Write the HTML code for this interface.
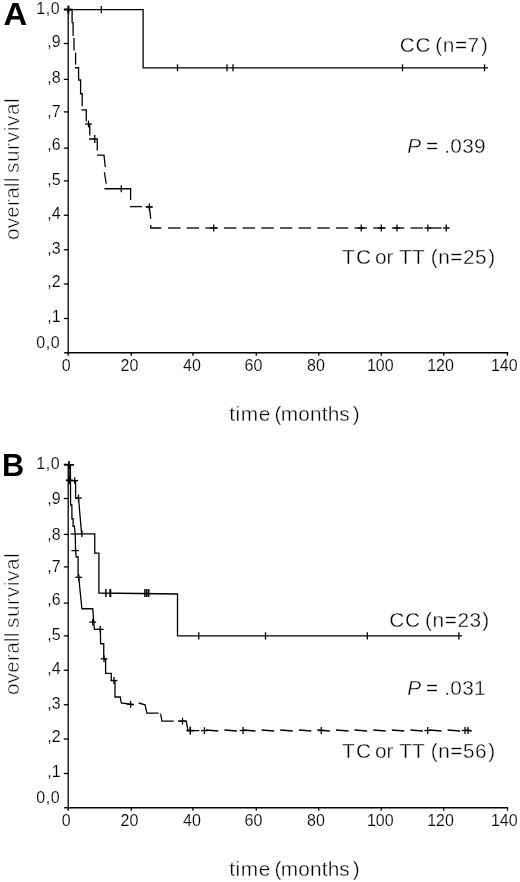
<!DOCTYPE html>
<html><head><meta charset="utf-8"><title>Survival</title>
<style>
html,body{margin:0;padding:0;background:#fff;}
svg{display:block;font-family:"Liberation Sans",sans-serif;font-kerning:none;}
text{fill:#000;font-kerning:none;}
text.b{fill:#000;}
text.t{stroke:#fff;stroke-width:0.35px;}
text.s{stroke:#fff;stroke-width:0.15px;}
text.r{stroke-width:0.55px;}
</style></head><body>
<svg width="520" height="882" viewBox="0 0 520 882">
<rect width="520" height="882" fill="#fff"/><g opacity="0.999">
<line x1="68.20" y1="8.90" x2="68.20" y2="353.35" stroke="#000" stroke-width="1.3"/>
<line x1="64.20" y1="352.75" x2="508.10" y2="352.75" stroke="#000" stroke-width="1.3"/>
<line x1="63.80" y1="318.50" x2="68.20" y2="318.50" stroke="#000" stroke-width="1.3"/>
<line x1="63.80" y1="284.00" x2="68.20" y2="284.00" stroke="#000" stroke-width="1.3"/>
<line x1="63.80" y1="249.75" x2="68.20" y2="249.75" stroke="#000" stroke-width="1.3"/>
<line x1="63.80" y1="215.25" x2="68.20" y2="215.25" stroke="#000" stroke-width="1.3"/>
<line x1="63.80" y1="180.90" x2="68.20" y2="180.90" stroke="#000" stroke-width="1.3"/>
<line x1="63.80" y1="148.10" x2="68.20" y2="148.10" stroke="#000" stroke-width="1.3"/>
<line x1="63.80" y1="111.90" x2="68.20" y2="111.90" stroke="#000" stroke-width="1.3"/>
<line x1="63.80" y1="79.40" x2="68.20" y2="79.40" stroke="#000" stroke-width="1.3"/>
<line x1="63.80" y1="43.50" x2="68.20" y2="43.50" stroke="#000" stroke-width="1.3"/>
<line x1="63.80" y1="9.40" x2="68.20" y2="9.40" stroke="#000" stroke-width="1.3"/>
<line x1="68.20" y1="352.75" x2="68.20" y2="355.75" stroke="#000" stroke-width="1.3"/>
<text x="66.25" y="371.00" font-size="16" text-anchor="middle" font-weight="normal" font-style="normal" class="s">0</text>
<line x1="131.25" y1="352.75" x2="131.25" y2="355.75" stroke="#000" stroke-width="1.3"/>
<text x="129.40" y="371.00" font-size="16" text-anchor="middle" font-weight="normal" font-style="normal" class="s">20</text>
<line x1="193.00" y1="352.75" x2="193.00" y2="355.75" stroke="#000" stroke-width="1.3"/>
<text x="191.90" y="371.00" font-size="16" text-anchor="middle" font-weight="normal" font-style="normal" class="s">40</text>
<line x1="256.25" y1="352.75" x2="256.25" y2="355.75" stroke="#000" stroke-width="1.3"/>
<text x="253.50" y="371.00" font-size="16" text-anchor="middle" font-weight="normal" font-style="normal" class="s">60</text>
<line x1="318.75" y1="352.75" x2="318.75" y2="355.75" stroke="#000" stroke-width="1.3"/>
<text x="316.00" y="371.00" font-size="16" text-anchor="middle" font-weight="normal" font-style="normal" class="s">80</text>
<line x1="381.25" y1="352.75" x2="381.25" y2="355.75" stroke="#000" stroke-width="1.3"/>
<text x="380.30" y="371.00" font-size="16" text-anchor="middle" font-weight="normal" font-style="normal" class="s">100</text>
<line x1="443.75" y1="352.75" x2="443.75" y2="355.75" stroke="#000" stroke-width="1.3"/>
<text x="440.50" y="371.00" font-size="16" text-anchor="middle" font-weight="normal" font-style="normal" class="s">120</text>
<line x1="507.50" y1="352.75" x2="507.50" y2="355.75" stroke="#000" stroke-width="1.3"/>
<text x="504.30" y="371.00" font-size="16" text-anchor="middle" font-weight="normal" font-style="normal" class="s">140</text>
<text x="60.10" y="347.80" font-size="16" text-anchor="end" font-weight="normal" font-style="normal" class="s" letter-spacing="0.5">0,0</text>
<text x="60.60" y="322.45" font-size="16" text-anchor="end" font-weight="normal" font-style="normal" class="s">,1</text>
<text x="60.60" y="286.95" font-size="16" text-anchor="end" font-weight="normal" font-style="normal" class="s">,2</text>
<text x="60.60" y="253.70" font-size="16" text-anchor="end" font-weight="normal" font-style="normal" class="s">,3</text>
<text x="60.60" y="219.45" font-size="16" text-anchor="end" font-weight="normal" font-style="normal" class="s">,4</text>
<text x="60.60" y="184.95" font-size="16" text-anchor="end" font-weight="normal" font-style="normal" class="s">,5</text>
<text x="60.60" y="150.30" font-size="16" text-anchor="end" font-weight="normal" font-style="normal" class="s">,6</text>
<text x="60.60" y="117.20" font-size="16" text-anchor="end" font-weight="normal" font-style="normal" class="s">,7</text>
<text x="60.60" y="83.20" font-size="16" text-anchor="end" font-weight="normal" font-style="normal" class="s">,8</text>
<text x="60.60" y="47.20" font-size="16" text-anchor="end" font-weight="normal" font-style="normal" class="s">,9</text>
<text x="60.10" y="14.30" font-size="16" text-anchor="end" font-weight="normal" font-style="normal" class="s" letter-spacing="0.5">1,0</text>
<text transform="translate(19.2,239.90) rotate(-90)" font-size="20.8" class="t r" letter-spacing="0.15">overall</text>
<text transform="translate(19.2,173.10) rotate(-90)" font-size="20.8" class="t r" letter-spacing="0.62">survival</text>
<text x="229.20" y="421.00" font-size="20.8" text-anchor="start" font-weight="normal" font-style="normal" class="t" letter-spacing="0.6">time</text>
<text x="274.60" y="421.00" font-size="20.8" text-anchor="start" font-weight="normal" font-style="normal" class="t">(</text>
<text x="280.80" y="421.00" font-size="20.8" text-anchor="start" font-weight="normal" font-style="normal" class="t" letter-spacing="0.15">months</text>
<text x="352.80" y="421.00" font-size="20.8" text-anchor="start" font-weight="normal" font-style="normal" class="t">)</text>
<text transform="translate(3.6,24.9) scale(1.07,1)" font-size="30.8" font-weight="bold" class="b">A</text>
<path d="M68.00 9.60 L143.10 9.60 L143.10 67.80 L488.00 67.80" fill="none" stroke="#000" stroke-width="1.3" stroke-linejoin="miter"/>
<line x1="63.90" y1="9.60" x2="72.90" y2="9.60" stroke="#000" stroke-width="2.0"/>
<line x1="68.40" y1="5.60" x2="68.40" y2="13.60" stroke="#000" stroke-width="2.0"/>
<line x1="101.30" y1="6.00" x2="101.30" y2="13.20" stroke="#000" stroke-width="1.3"/>
<line x1="177.50" y1="64.30" x2="177.50" y2="71.30" stroke="#000" stroke-width="1.3"/>
<line x1="227.00" y1="64.30" x2="227.00" y2="71.30" stroke="#000" stroke-width="1.3"/>
<line x1="233.00" y1="64.30" x2="233.00" y2="71.30" stroke="#000" stroke-width="1.3"/>
<line x1="402.50" y1="64.30" x2="402.50" y2="71.30" stroke="#000" stroke-width="1.3"/>
<line x1="484.50" y1="64.30" x2="484.50" y2="71.30" stroke="#000" stroke-width="1.3"/>
<path d="M72.10 9.60 L72.10 22.50 L73.10 22.60 L73.10 36.00" fill="none" stroke="#000" stroke-width="1.3" stroke-linejoin="miter"/>
<path d="M74.00 38.00 L74.00 50.60" fill="none" stroke="#000" stroke-width="1.3" stroke-linejoin="miter"/>
<path d="M75.60 52.50 L75.60 64.60" fill="none" stroke="#000" stroke-width="1.3" stroke-linejoin="miter"/>
<path d="M75.00 67.75 L78.60 67.75 L78.60 80.00 L80.60 80.00 L80.60 93.75 L82.20 93.75 L82.20 106.25" fill="none" stroke="#000" stroke-width="1.3" stroke-linejoin="miter"/>
<path d="M81.40 109.90 L86.25 109.90 L86.25 121.50" fill="none" stroke="#000" stroke-width="1.3" stroke-linejoin="miter"/>
<path d="M89.75 124.00 L89.75 135.60" fill="none" stroke="#000" stroke-width="1.3" stroke-linejoin="miter"/>
<path d="M89.00 139.00 L97.25 139.00 L97.25 150.60" fill="none" stroke="#000" stroke-width="1.3" stroke-linejoin="miter"/>
<path d="M97.00 155.20 L104.00 155.20 L105.25 167.00" fill="none" stroke="#000" stroke-width="1.3" stroke-linejoin="miter"/>
<path d="M104.40 172.25 L106.25 183.75" fill="none" stroke="#000" stroke-width="1.3" stroke-linejoin="miter"/>
<path d="M104.40 188.75 L130.60 188.75 L130.60 200.00" fill="none" stroke="#000" stroke-width="1.3" stroke-linejoin="miter"/>
<path d="M130.00 206.60 L141.90 206.60" fill="none" stroke="#000" stroke-width="1.3" stroke-linejoin="miter"/>
<path d="M145.60 206.80 L152.50 206.80" fill="none" stroke="#000" stroke-width="1.3" stroke-linejoin="miter"/>
<path d="M149.40 207.00 L150.75 218.75" fill="none" stroke="#000" stroke-width="1.3" stroke-linejoin="miter"/>
<path d="M150.75 225.00 L150.75 228.00 L161.25 228.00" fill="none" stroke="#000" stroke-width="1.3" stroke-linejoin="miter"/>
<line x1="85.10" y1="124.00" x2="91.90" y2="124.00" stroke="#000" stroke-width="1.3"/>
<line x1="88.50" y1="120.60" x2="88.50" y2="127.40" stroke="#000" stroke-width="1.3"/>
<line x1="94.65" y1="139.00" x2="94.85" y2="139.00" stroke="#000" stroke-width="1.3"/>
<line x1="94.75" y1="135.00" x2="94.75" y2="143.00" stroke="#000" stroke-width="1.3"/>
<line x1="121.15" y1="188.75" x2="121.35" y2="188.75" stroke="#000" stroke-width="1.3"/>
<line x1="121.25" y1="185.35" x2="121.25" y2="192.15" stroke="#000" stroke-width="1.3"/>
<line x1="145.90" y1="207.00" x2="152.70" y2="207.00" stroke="#000" stroke-width="1.3"/>
<line x1="149.30" y1="203.60" x2="149.30" y2="210.40" stroke="#000" stroke-width="1.3"/>
<line x1="168.00" y1="228.00" x2="180.50" y2="228.00" stroke="#000" stroke-width="1.3"/>
<line x1="186.65" y1="228.00" x2="199.15" y2="228.00" stroke="#000" stroke-width="1.3"/>
<line x1="205.30" y1="228.00" x2="217.80" y2="228.00" stroke="#000" stroke-width="1.3"/>
<line x1="223.95" y1="228.00" x2="236.45" y2="228.00" stroke="#000" stroke-width="1.3"/>
<line x1="242.60" y1="228.00" x2="255.10" y2="228.00" stroke="#000" stroke-width="1.3"/>
<line x1="261.25" y1="228.00" x2="273.75" y2="228.00" stroke="#000" stroke-width="1.3"/>
<line x1="279.90" y1="228.00" x2="292.40" y2="228.00" stroke="#000" stroke-width="1.3"/>
<line x1="298.55" y1="228.00" x2="311.05" y2="228.00" stroke="#000" stroke-width="1.3"/>
<line x1="317.20" y1="228.00" x2="329.70" y2="228.00" stroke="#000" stroke-width="1.3"/>
<line x1="335.85" y1="228.00" x2="348.35" y2="228.00" stroke="#000" stroke-width="1.3"/>
<line x1="354.50" y1="228.00" x2="367.00" y2="228.00" stroke="#000" stroke-width="1.3"/>
<line x1="373.15" y1="228.00" x2="385.65" y2="228.00" stroke="#000" stroke-width="1.3"/>
<line x1="391.80" y1="228.00" x2="404.30" y2="228.00" stroke="#000" stroke-width="1.3"/>
<line x1="410.45" y1="228.00" x2="422.95" y2="228.00" stroke="#000" stroke-width="1.3"/>
<line x1="429.10" y1="228.00" x2="441.60" y2="228.00" stroke="#000" stroke-width="1.3"/>
<line x1="447.75" y1="228.00" x2="448.50" y2="228.00" stroke="#000" stroke-width="1.3"/>
<line x1="210.35" y1="228.00" x2="217.15" y2="228.00" stroke="#000" stroke-width="1.3"/>
<line x1="213.75" y1="224.60" x2="213.75" y2="231.40" stroke="#000" stroke-width="1.3"/>
<line x1="357.85" y1="228.00" x2="364.65" y2="228.00" stroke="#000" stroke-width="1.3"/>
<line x1="361.25" y1="224.60" x2="361.25" y2="231.40" stroke="#000" stroke-width="1.3"/>
<line x1="377.85" y1="228.00" x2="384.65" y2="228.00" stroke="#000" stroke-width="1.3"/>
<line x1="381.25" y1="224.60" x2="381.25" y2="231.40" stroke="#000" stroke-width="1.3"/>
<line x1="393.60" y1="228.00" x2="400.40" y2="228.00" stroke="#000" stroke-width="1.3"/>
<line x1="397.00" y1="224.60" x2="397.00" y2="231.40" stroke="#000" stroke-width="1.3"/>
<line x1="424.50" y1="228.00" x2="431.30" y2="228.00" stroke="#000" stroke-width="1.3"/>
<line x1="427.90" y1="224.60" x2="427.90" y2="231.40" stroke="#000" stroke-width="1.3"/>
<line x1="442.85" y1="228.00" x2="449.65" y2="228.00" stroke="#000" stroke-width="1.3"/>
<line x1="446.25" y1="224.60" x2="446.25" y2="231.40" stroke="#000" stroke-width="1.3"/>
<text x="399.80" y="52.00" font-size="20.8" text-anchor="start" font-weight="normal" font-style="normal" class="t" letter-spacing="0.8">CC</text>
<text x="435.20" y="52.00" font-size="20.8" text-anchor="start" font-weight="normal" font-style="normal" class="t" letter-spacing="0.6">(n=7</text>
<text x="481.00" y="52.00" font-size="20.8" text-anchor="start" font-weight="normal" font-style="normal" class="t" letter-spacing="0">)</text>
<text x="407.20" y="153.30" font-size="20.8" text-anchor="start" font-weight="normal" font-style="italic" class="t" letter-spacing="0">P</text>
<text x="425.90" y="153.30" font-size="20.8" text-anchor="start" font-weight="normal" font-style="normal" class="t" letter-spacing="0">=</text>
<text x="444.30" y="153.30" font-size="20.8" text-anchor="start" font-weight="normal" font-style="normal" class="t" letter-spacing="0.3">.039</text>
<text x="341.90" y="264.00" font-size="20.8" text-anchor="start" font-weight="normal" font-style="normal" class="t" letter-spacing="0">T</text>
<text x="356.10" y="264.00" font-size="20.8" text-anchor="start" font-weight="normal" font-style="normal" class="t" letter-spacing="0">C</text>
<text x="375.00" y="264.00" font-size="20.8" text-anchor="start" font-weight="normal" font-style="normal" class="t" letter-spacing="0">or TT</text>
<text x="430.70" y="264.00" font-size="20.8" text-anchor="start" font-weight="normal" font-style="normal" class="t" letter-spacing="0.55">(n=25</text>
<text x="488.30" y="264.00" font-size="20.8" text-anchor="start" font-weight="normal" font-style="normal" class="t" letter-spacing="0">)</text>
<line x1="68.20" y1="463.90" x2="68.20" y2="808.35" stroke="#000" stroke-width="1.3"/>
<line x1="64.20" y1="807.75" x2="508.10" y2="807.75" stroke="#000" stroke-width="1.3"/>
<line x1="63.80" y1="773.50" x2="68.20" y2="773.50" stroke="#000" stroke-width="1.3"/>
<line x1="63.80" y1="739.00" x2="68.20" y2="739.00" stroke="#000" stroke-width="1.3"/>
<line x1="63.80" y1="704.75" x2="68.20" y2="704.75" stroke="#000" stroke-width="1.3"/>
<line x1="63.80" y1="670.25" x2="68.20" y2="670.25" stroke="#000" stroke-width="1.3"/>
<line x1="63.80" y1="635.90" x2="68.20" y2="635.90" stroke="#000" stroke-width="1.3"/>
<line x1="63.80" y1="603.10" x2="68.20" y2="603.10" stroke="#000" stroke-width="1.3"/>
<line x1="63.80" y1="566.90" x2="68.20" y2="566.90" stroke="#000" stroke-width="1.3"/>
<line x1="63.80" y1="534.40" x2="68.20" y2="534.40" stroke="#000" stroke-width="1.3"/>
<line x1="63.80" y1="498.50" x2="68.20" y2="498.50" stroke="#000" stroke-width="1.3"/>
<line x1="63.80" y1="464.40" x2="68.20" y2="464.40" stroke="#000" stroke-width="1.3"/>
<line x1="68.20" y1="807.75" x2="68.20" y2="810.75" stroke="#000" stroke-width="1.3"/>
<text x="66.25" y="826.00" font-size="16" text-anchor="middle" font-weight="normal" font-style="normal" class="s">0</text>
<line x1="131.25" y1="807.75" x2="131.25" y2="810.75" stroke="#000" stroke-width="1.3"/>
<text x="129.40" y="826.00" font-size="16" text-anchor="middle" font-weight="normal" font-style="normal" class="s">20</text>
<line x1="193.00" y1="807.75" x2="193.00" y2="810.75" stroke="#000" stroke-width="1.3"/>
<text x="191.90" y="826.00" font-size="16" text-anchor="middle" font-weight="normal" font-style="normal" class="s">40</text>
<line x1="256.25" y1="807.75" x2="256.25" y2="810.75" stroke="#000" stroke-width="1.3"/>
<text x="253.50" y="826.00" font-size="16" text-anchor="middle" font-weight="normal" font-style="normal" class="s">60</text>
<line x1="318.75" y1="807.75" x2="318.75" y2="810.75" stroke="#000" stroke-width="1.3"/>
<text x="316.00" y="826.00" font-size="16" text-anchor="middle" font-weight="normal" font-style="normal" class="s">80</text>
<line x1="381.25" y1="807.75" x2="381.25" y2="810.75" stroke="#000" stroke-width="1.3"/>
<text x="380.30" y="826.00" font-size="16" text-anchor="middle" font-weight="normal" font-style="normal" class="s">100</text>
<line x1="443.75" y1="807.75" x2="443.75" y2="810.75" stroke="#000" stroke-width="1.3"/>
<text x="440.50" y="826.00" font-size="16" text-anchor="middle" font-weight="normal" font-style="normal" class="s">120</text>
<line x1="507.50" y1="807.75" x2="507.50" y2="810.75" stroke="#000" stroke-width="1.3"/>
<text x="504.30" y="826.00" font-size="16" text-anchor="middle" font-weight="normal" font-style="normal" class="s">140</text>
<text x="60.10" y="802.80" font-size="16" text-anchor="end" font-weight="normal" font-style="normal" class="s" letter-spacing="0.5">0,0</text>
<text x="60.60" y="777.45" font-size="16" text-anchor="end" font-weight="normal" font-style="normal" class="s">,1</text>
<text x="60.60" y="741.95" font-size="16" text-anchor="end" font-weight="normal" font-style="normal" class="s">,2</text>
<text x="60.60" y="708.70" font-size="16" text-anchor="end" font-weight="normal" font-style="normal" class="s">,3</text>
<text x="60.60" y="674.45" font-size="16" text-anchor="end" font-weight="normal" font-style="normal" class="s">,4</text>
<text x="60.60" y="639.95" font-size="16" text-anchor="end" font-weight="normal" font-style="normal" class="s">,5</text>
<text x="60.60" y="605.30" font-size="16" text-anchor="end" font-weight="normal" font-style="normal" class="s">,6</text>
<text x="60.60" y="572.20" font-size="16" text-anchor="end" font-weight="normal" font-style="normal" class="s">,7</text>
<text x="60.60" y="540.30" font-size="16" text-anchor="end" font-weight="normal" font-style="normal" class="s">,8</text>
<text x="60.60" y="503.70" font-size="16" text-anchor="end" font-weight="normal" font-style="normal" class="s">,9</text>
<text x="60.10" y="469.30" font-size="16" text-anchor="end" font-weight="normal" font-style="normal" class="s" letter-spacing="0.5">1,0</text>
<text transform="translate(19.2,694.90) rotate(-90)" font-size="20.8" class="t r" letter-spacing="0.15">overall</text>
<text transform="translate(19.2,628.10) rotate(-90)" font-size="20.8" class="t r" letter-spacing="0.62">survival</text>
<text x="229.20" y="876.00" font-size="20.8" text-anchor="start" font-weight="normal" font-style="normal" class="t" letter-spacing="0.6">time</text>
<text x="274.60" y="876.00" font-size="20.8" text-anchor="start" font-weight="normal" font-style="normal" class="t">(</text>
<text x="280.80" y="876.00" font-size="20.8" text-anchor="start" font-weight="normal" font-style="normal" class="t" letter-spacing="0.15">months</text>
<text x="352.80" y="876.00" font-size="20.8" text-anchor="start" font-weight="normal" font-style="normal" class="t">)</text>
<text x="1.90" y="475.70" font-size="30.8" text-anchor="start" font-weight="bold" font-style="normal" class="b">B</text>
<path d="M69.00 465.00 L69.30 480.60 L75.60 480.60 L75.60 498.00 L78.50 498.00 L81.60 533.80 L94.75 533.80 L94.75 553.10 L98.90 553.10 L98.90 593.00 L177.50 594.00 L177.50 635.90 L462.00 635.90" fill="none" stroke="#000" stroke-width="1.3" stroke-linejoin="miter"/>
<line x1="64.00" y1="464.90" x2="74.00" y2="464.90" stroke="#000" stroke-width="1.7"/>
<line x1="69.00" y1="460.90" x2="69.00" y2="468.90" stroke="#000" stroke-width="1.7"/>
<line x1="65.90" y1="480.30" x2="72.90" y2="480.30" stroke="#000" stroke-width="1.8"/>
<line x1="69.40" y1="476.30" x2="69.40" y2="484.30" stroke="#000" stroke-width="1.8"/>
<line x1="71.35" y1="480.60" x2="78.15" y2="480.60" stroke="#000" stroke-width="1.3"/>
<line x1="74.75" y1="477.20" x2="74.75" y2="484.00" stroke="#000" stroke-width="1.3"/>
<line x1="75.10" y1="498.00" x2="81.90" y2="498.00" stroke="#000" stroke-width="1.3"/>
<line x1="78.50" y1="494.60" x2="78.50" y2="501.40" stroke="#000" stroke-width="1.3"/>
<line x1="81.80" y1="533.60" x2="82.00" y2="533.60" stroke="#000" stroke-width="1.3"/>
<line x1="81.90" y1="530.10" x2="81.90" y2="537.10" stroke="#000" stroke-width="1.3"/>
<line x1="105.90" y1="589.10" x2="105.90" y2="597.10" stroke="#000" stroke-width="1.5"/>
<line x1="144.90" y1="589.10" x2="144.90" y2="597.10" stroke="#000" stroke-width="1.5"/>
<line x1="146.80" y1="589.10" x2="146.80" y2="597.10" stroke="#000" stroke-width="1.5"/>
<line x1="148.70" y1="589.10" x2="148.70" y2="597.10" stroke="#000" stroke-width="1.5"/>
<line x1="110.30" y1="589.10" x2="110.30" y2="597.10" stroke="#000" stroke-width="2.0"/>
<line x1="198.75" y1="632.20" x2="198.75" y2="639.60" stroke="#000" stroke-width="1.3"/>
<line x1="265.50" y1="632.20" x2="265.50" y2="639.60" stroke="#000" stroke-width="1.3"/>
<line x1="367.30" y1="632.20" x2="367.30" y2="639.60" stroke="#000" stroke-width="1.3"/>
<line x1="458.90" y1="632.20" x2="458.90" y2="639.60" stroke="#000" stroke-width="1.3"/>
<path d="M70.40 465.00 L70.60 505.00 L71.90 505.00 L71.90 518.75 L73.10 518.75 L73.10 526.25 L74.40 526.25 L75.20 534.00 L75.60 550.60 L76.25 557.00 L78.10 557.00 L78.10 577.30 L78.75 577.30 L81.90 608.75 L92.75 608.75 L93.75 622.00 L94.40 629.40 L100.40 629.40 L100.60 643.75 L103.75 643.75 L103.75 658.75 L105.60 658.75 L105.60 673.30 L111.25 673.30 L111.25 680.60 L115.00 680.60 L115.00 697.00 L120.25 697.00 L121.25 703.00 L133.75 704.75" fill="none" stroke="#000" stroke-width="1.3" stroke-linejoin="miter"/>
<line x1="70.60" y1="534.00" x2="81.80" y2="534.00" stroke="#000" stroke-width="1.3"/>
<line x1="71.50" y1="550.60" x2="78.90" y2="550.60" stroke="#000" stroke-width="1.3"/>
<line x1="75.20" y1="550.50" x2="75.20" y2="550.70" stroke="#000" stroke-width="1.3"/>
<line x1="75.35" y1="577.30" x2="82.15" y2="577.30" stroke="#000" stroke-width="1.3"/>
<line x1="78.75" y1="573.90" x2="78.75" y2="580.70" stroke="#000" stroke-width="1.3"/>
<line x1="89.35" y1="622.10" x2="96.15" y2="622.10" stroke="#000" stroke-width="1.3"/>
<line x1="92.75" y1="618.70" x2="92.75" y2="625.50" stroke="#000" stroke-width="1.3"/>
<line x1="96.85" y1="629.40" x2="103.65" y2="629.40" stroke="#000" stroke-width="1.3"/>
<line x1="100.25" y1="626.00" x2="100.25" y2="632.80" stroke="#000" stroke-width="1.3"/>
<line x1="100.60" y1="658.75" x2="107.40" y2="658.75" stroke="#000" stroke-width="1.3"/>
<line x1="104.00" y1="655.35" x2="104.00" y2="662.15" stroke="#000" stroke-width="1.3"/>
<line x1="110.60" y1="680.50" x2="117.40" y2="680.50" stroke="#000" stroke-width="1.3"/>
<line x1="114.00" y1="677.10" x2="114.00" y2="683.90" stroke="#000" stroke-width="1.3"/>
<line x1="127.20" y1="704.40" x2="134.00" y2="704.40" stroke="#000" stroke-width="1.3"/>
<line x1="130.60" y1="701.00" x2="130.60" y2="707.80" stroke="#000" stroke-width="1.3"/>
<path d="M138.75 703.00 L145.00 704.75 L146.90 713.20 L158.75 713.20" fill="none" stroke="#000" stroke-width="1.3" stroke-linejoin="miter"/>
<path d="M160.60 713.75 L161.90 721.10 L173.75 721.10" fill="none" stroke="#000" stroke-width="1.3" stroke-linejoin="miter"/>
<path d="M178.00 721.10 L186.25 721.10 L188.00 730.60 L199.40 730.60" fill="none" stroke="#000" stroke-width="1.3" stroke-linejoin="miter"/>
<line x1="179.10" y1="721.10" x2="185.90" y2="721.10" stroke="#000" stroke-width="1.3"/>
<line x1="182.50" y1="717.70" x2="182.50" y2="724.50" stroke="#000" stroke-width="1.3"/>
<line x1="186.25" y1="730.60" x2="194.25" y2="730.60" stroke="#000" stroke-width="1.6"/>
<line x1="190.25" y1="726.60" x2="190.25" y2="734.60" stroke="#000" stroke-width="1.6"/>
<line x1="201.00" y1="730.60" x2="207.80" y2="730.60" stroke="#000" stroke-width="1.3"/>
<line x1="204.40" y1="727.20" x2="204.40" y2="734.00" stroke="#000" stroke-width="1.3"/>
<line x1="205.80" y1="730.00" x2="218.30" y2="731.00" stroke="#000" stroke-width="1.3"/>
<line x1="224.40" y1="730.00" x2="236.90" y2="731.00" stroke="#000" stroke-width="1.3"/>
<line x1="243.00" y1="730.00" x2="255.50" y2="731.00" stroke="#000" stroke-width="1.3"/>
<line x1="261.60" y1="730.00" x2="274.10" y2="731.00" stroke="#000" stroke-width="1.3"/>
<line x1="280.20" y1="730.00" x2="292.70" y2="731.00" stroke="#000" stroke-width="1.3"/>
<line x1="298.80" y1="730.00" x2="311.30" y2="731.00" stroke="#000" stroke-width="1.3"/>
<line x1="317.40" y1="730.00" x2="329.90" y2="731.00" stroke="#000" stroke-width="1.3"/>
<line x1="336.00" y1="730.00" x2="348.50" y2="731.00" stroke="#000" stroke-width="1.3"/>
<line x1="354.60" y1="730.00" x2="367.10" y2="731.00" stroke="#000" stroke-width="1.3"/>
<line x1="373.20" y1="730.00" x2="385.70" y2="731.00" stroke="#000" stroke-width="1.3"/>
<line x1="391.80" y1="730.00" x2="404.30" y2="731.00" stroke="#000" stroke-width="1.3"/>
<line x1="410.40" y1="730.00" x2="422.90" y2="731.00" stroke="#000" stroke-width="1.3"/>
<line x1="429.00" y1="730.00" x2="441.50" y2="731.00" stroke="#000" stroke-width="1.3"/>
<line x1="447.60" y1="730.00" x2="460.10" y2="731.00" stroke="#000" stroke-width="1.3"/>
<line x1="466.20" y1="730.00" x2="471.50" y2="731.00" stroke="#000" stroke-width="1.3"/>
<line x1="239.60" y1="730.50" x2="246.40" y2="730.50" stroke="#000" stroke-width="1.3"/>
<line x1="243.00" y1="727.10" x2="243.00" y2="733.90" stroke="#000" stroke-width="1.3"/>
<line x1="317.85" y1="730.50" x2="324.65" y2="730.50" stroke="#000" stroke-width="1.3"/>
<line x1="321.25" y1="727.10" x2="321.25" y2="733.90" stroke="#000" stroke-width="1.3"/>
<line x1="424.30" y1="730.50" x2="431.10" y2="730.50" stroke="#000" stroke-width="1.3"/>
<line x1="427.70" y1="727.10" x2="427.70" y2="733.90" stroke="#000" stroke-width="1.3"/>
<line x1="461.60" y1="730.50" x2="468.40" y2="730.50" stroke="#000" stroke-width="1.3"/>
<line x1="465.00" y1="727.10" x2="465.00" y2="733.90" stroke="#000" stroke-width="1.3"/>
<line x1="464.60" y1="730.50" x2="471.40" y2="730.50" stroke="#000" stroke-width="1.3"/>
<line x1="468.00" y1="727.10" x2="468.00" y2="733.90" stroke="#000" stroke-width="1.3"/>
<text x="389.30" y="626.70" font-size="20.8" text-anchor="start" font-weight="normal" font-style="normal" class="t" letter-spacing="0.8">CC</text>
<text x="425.00" y="626.70" font-size="20.8" text-anchor="start" font-weight="normal" font-style="normal" class="t" letter-spacing="0.6">(n=23</text>
<text x="482.20" y="626.70" font-size="20.8" text-anchor="start" font-weight="normal" font-style="normal" class="t" letter-spacing="0">)</text>
<text x="407.20" y="695.20" font-size="20.8" text-anchor="start" font-weight="normal" font-style="italic" class="t" letter-spacing="0">P</text>
<text x="425.90" y="695.20" font-size="20.8" text-anchor="start" font-weight="normal" font-style="normal" class="t" letter-spacing="0">=</text>
<text x="444.30" y="695.20" font-size="20.8" text-anchor="start" font-weight="normal" font-style="normal" class="t" letter-spacing="0.3">.031</text>
<text x="341.90" y="757.70" font-size="20.8" text-anchor="start" font-weight="normal" font-style="normal" class="t" letter-spacing="0">T</text>
<text x="356.10" y="757.70" font-size="20.8" text-anchor="start" font-weight="normal" font-style="normal" class="t" letter-spacing="0">C</text>
<text x="375.00" y="757.70" font-size="20.8" text-anchor="start" font-weight="normal" font-style="normal" class="t" letter-spacing="0">or TT</text>
<text x="430.70" y="757.70" font-size="20.8" text-anchor="start" font-weight="normal" font-style="normal" class="t" letter-spacing="0.55">(n=56</text>
<text x="488.30" y="757.70" font-size="20.8" text-anchor="start" font-weight="normal" font-style="normal" class="t" letter-spacing="0">)</text>
</g></svg></body></html>
